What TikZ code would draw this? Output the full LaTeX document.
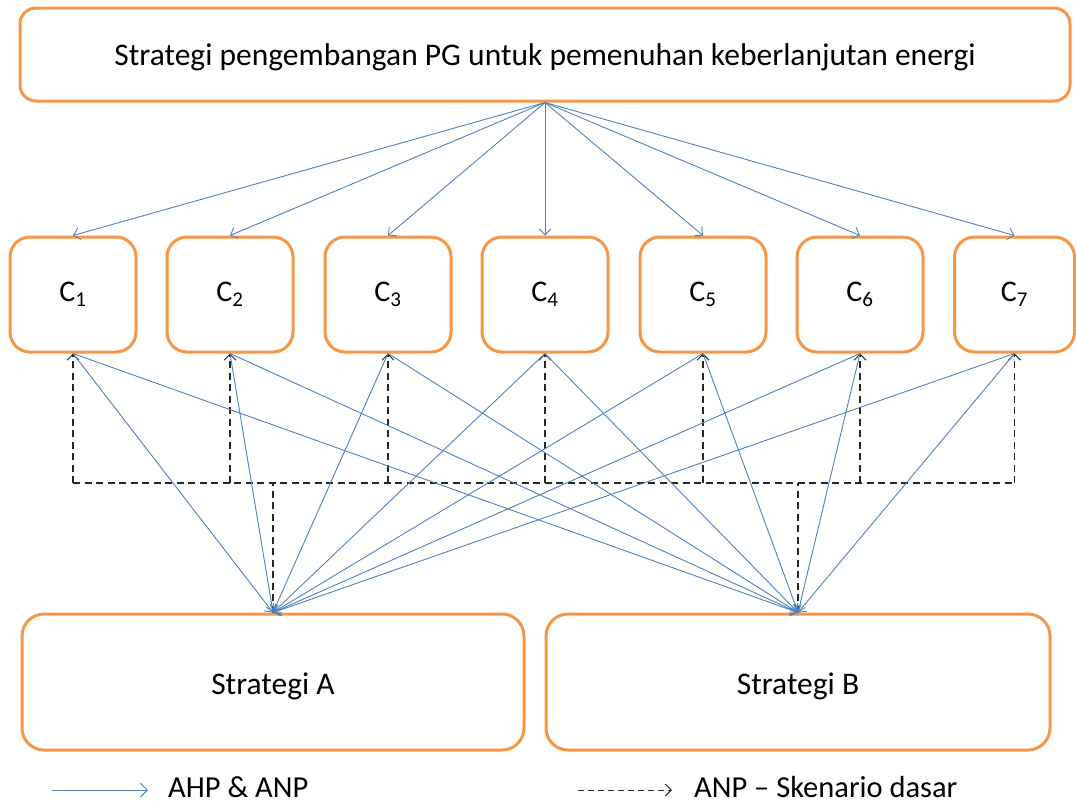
\documentclass[tikz,border=0pt]{standalone}
\usepackage{fontspec}
\setmainfont{Carlito}
\usetikzlibrary{arrows.meta}
\definecolor{boxorange}{HTML}{F79646}
\definecolor{linkblue}{HTML}{4F81BD}
\begin{document}
\begin{tikzpicture}[x=1pt,y=-1pt,
  box/.style={draw=boxorange, line width=3pt, fill=white, rounded corners=16pt,
    inner sep=0pt, align=center},
  crit/.style={box, minimum width=126pt, minimum height=115pt, rounded corners=20pt,
    font=\fontsize{30}{34}\selectfont},
  strat/.style={box, minimum height=136pt, rounded corners=22pt,
    font=\fontsize{31.5}{34}\selectfont},
  solidlink/.style={draw=linkblue, line width=0.9pt,
    -{Straight Barb[length=6pt,width=12pt,line width=0.9pt]}},
  dashlink/.style={draw=black!85, line width=1.2pt, dash pattern=on 7pt off 4.5pt,
    -{Straight Barb[length=6pt,width=12pt,line width=1pt]}},
  dashplain/.style={draw=black!85, line width=1.2pt, dash pattern=on 7pt off 4.5pt},
  legendtext/.style={anchor=west, inner sep=0pt, font=\fontsize{30.5}{34}\selectfont}
]
\useasboundingbox (0,0) rectangle (1076,804);

% goal
\node[box, minimum width=1050pt, minimum height=93pt] (goal) at (545,54.5) {};
\node[font=\fontsize{31.5}{34}\selectfont, inner sep=0pt] (goaltext) at (545,57)
  {Strategi pengembangan PG untuk pemenuhan keberlanjutan energi};

% criteria
\foreach \i/\x in {1/73,2/230,3/388,4/545,5/703,6/860}{
  \node[crit] (c\i) at (\x,294.5) {C\textsubscript{\i}};
}
\node[crit, minimum width=120pt] (c7) at (1014.5,294.5) {C\textsubscript{7}};

% alternatives
\node[strat, minimum width=502pt] (sa) at (273,682) {};
\node[strat, minimum width=504pt] (sb) at (798,682) {};
\node[font=\fontsize{31.5}{34}\selectfont, inner sep=0pt] (satext) at (273,686) {Strategi A};
\node[font=\fontsize{31.5}{34}\selectfont, inner sep=0pt] (sbtext) at (798,686) {Strategi B};

% dashed feedback bus
\coordinate (busL) at (73,483);
\coordinate (busR) at (1014.5,483);
\draw[dashplain] (busL) -- (busR);
\draw[dashplain] (sa.north) -- (sa.north |- busL);
\draw[dashplain] (sb.north) -- (sb.north |- busL);
\foreach \i in {1,...,7}{
  \draw[dashlink] (c\i.south |- busL) -- (c\i.south);
}

% goal to criteria
\foreach \i in {1,...,7}{
  \draw[solidlink] (goal.south) -- (c\i.north);
}

% criteria to alternatives
\foreach \i in {1,...,7}{
  \draw[solidlink] (c\i.south) -- (sa.north);
  \draw[solidlink] (c\i.south) -- (sb.north);
}

% legend
\coordinate (l1a) at (52,790);
\coordinate (l1b) at (148,790);
\draw[solidlink, -{Straight Barb[length=7pt,width=14pt,line width=0.9pt]}] (l1a) -- (l1b);
\node[legendtext] (l1t) at (168,787) {AHP \& ANP};
\coordinate (l2a) at (578,790);
\coordinate (l2b) at (672,790);
\draw[dashlink, line width=1pt, dash pattern=on 6pt off 4pt] (l2a) -- (l2b);
\node[legendtext] (l2t) at (694,787) {ANP – Skenario dasar};
\end{tikzpicture}
\end{document}
